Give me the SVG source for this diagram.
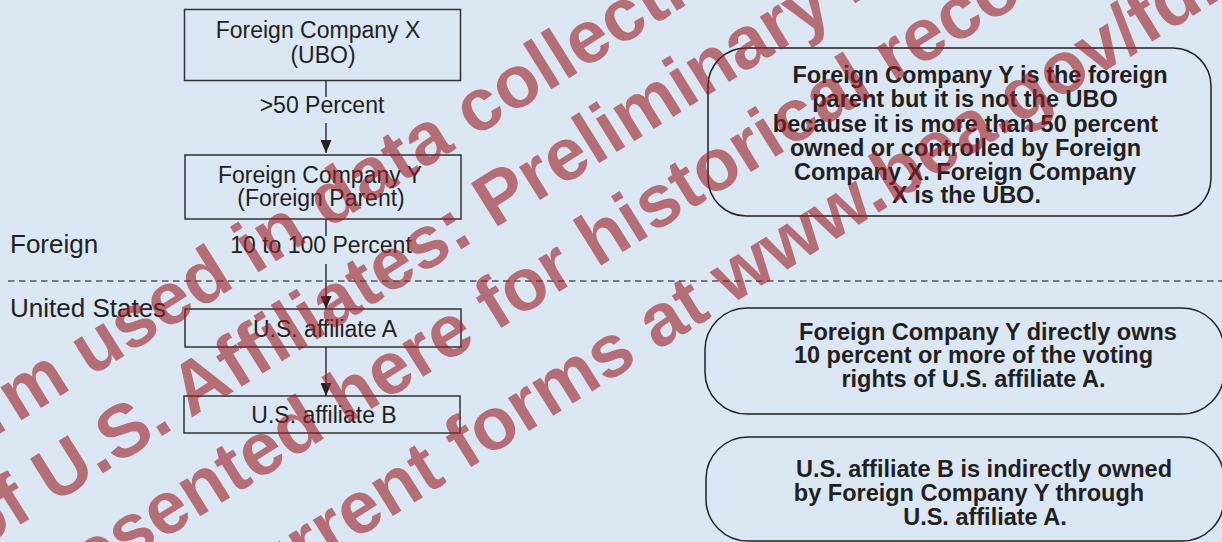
<svg xmlns="http://www.w3.org/2000/svg" width="1222" height="542" viewBox="0 0 1222 542">
<defs>
<style>
.bg{fill:#dae6f1}
.box{fill:none;stroke:#333;stroke-width:1.5}
.rbox{fill:none;stroke:#222;stroke-width:1.5}
.t{font-family:"Liberation Sans",Arial,sans-serif;font-size:23px;fill:#231f20;text-anchor:middle}
.side{font-family:"Liberation Sans",Arial,sans-serif;font-size:26px;fill:#231f20}
.b{font-family:"Liberation Sans",Arial,sans-serif;font-size:23.5px;font-weight:bold;fill:#231f20;text-anchor:middle}
.conn{stroke:#333;stroke-width:1.5;fill:none}
.dash{stroke:#555;stroke-width:1.5;stroke-dasharray:6.5 4.5;fill:none}
.wm{font-family:"Liberation Sans",Arial,sans-serif;font-size:74px;font-weight:bold;fill:#9c1c24;fill-opacity:0.6}
</style>
<marker id="arr" markerUnits="userSpaceOnUse" markerWidth="13" markerHeight="11" viewBox="0 0 13 11" refX="13" refY="5.5" orient="auto">
<path d="M0,0 L13,5.5 L0,11 z" fill="#222"/>
</marker>
</defs>
<rect class="bg" x="0" y="0" width="1222" height="542"/>

<g id="region-labels">
<text class="side" x="10" y="253">Foreign</text>
<line class="dash" x1="8" y1="281" x2="1222" y2="281"/>
<text class="side" x="10" y="317">United States</text>
</g>

<g id="node-company-x">
<rect class="box" x="184.5" y="9.5" width="276" height="71"/>
<text class="t" x="318" y="38">Foreign Company X</text>
<text class="t" x="323" y="63">(UBO)</text>
</g>

<g id="node-company-y">
<rect class="box" x="185" y="155" width="276" height="64"/>
<text class="t" x="320" y="183">Foreign Company Y</text>
<text class="t" x="321" y="206">(Foreign Parent)</text>
</g>

<g id="node-affiliate-a">
<rect class="box" x="185" y="309" width="276" height="38"/>
<text class="t" x="325" y="337">U.S. affiliate A</text>
</g>

<g id="node-affiliate-b">
<rect class="box" x="184" y="396" width="276" height="37"/>
<text class="t" x="324" y="423">U.S. affiliate B</text>
</g>

<g id="connectors">
<line class="conn" x1="326" y1="81" x2="326" y2="97"/>
<text class="t" x="322" y="113">&gt;50 Percent</text>
<line class="conn" x1="326" y1="123" x2="326" y2="153" marker-end="url(#arr)"/>
<line class="conn" x1="326" y1="219" x2="326" y2="236"/>
<text class="t" x="321" y="253">10 to 100 Percent</text>
<line class="conn" x1="326" y1="264" x2="326" y2="309" marker-end="url(#arr)"/>
<line class="conn" x1="326" y1="347" x2="326" y2="396" marker-end="url(#arr)"/>
</g>

<g id="note-ubo">
<rect class="rbox" x="708" y="48" width="503" height="168" rx="38" ry="38"/>
<text class="b" x="980" y="83">Foreign Company Y is the foreign</text>
<text class="b" x="965" y="107">parent but it is not the UBO</text>
<text class="b" x="965.5" y="131.5">because it is more than 50 percent</text>
<text class="b" x="965.5" y="155.5">owned or controlled by Foreign</text>
<text class="b" x="965" y="180">Company X. Foreign Company</text>
<text class="b" x="966.5" y="203">X is the UBO.</text>
</g>

<g id="note-direct">
<rect class="rbox" x="705" y="308" width="519" height="106" rx="42" ry="42"/>
<text class="b" x="988" y="340">Foreign Company Y directly owns</text>
<text class="b" x="973.5" y="363">10 percent or more of the voting</text>
<text class="b" x="973.5" y="387">rights of U.S. affiliate A.</text>
</g>

<g id="note-indirect">
<rect class="rbox" x="706" y="437" width="518" height="104" rx="42" ry="42"/>
<text class="b" x="984" y="477">U.S. affiliate B is indirectly owned</text>
<text class="b" x="969" y="501">by Foreign Company Y through</text>
<text class="b" x="985" y="525">U.S. affiliate A.</text>
</g>

<g id="watermark" transform="translate(476,240) rotate(-32)">
<text class="wm" x="-585" y="-88">form used in data collection</text>
<text class="wm" x="-589" y="0">of U.S. Affiliates: Preliminary 2</text>
<text class="wm" x="-583" y="88">presented here for historical record</text>
<text class="wm" x="-407" y="190">current forms at www.bea.gov/fdi</text>
</g>
</svg>
